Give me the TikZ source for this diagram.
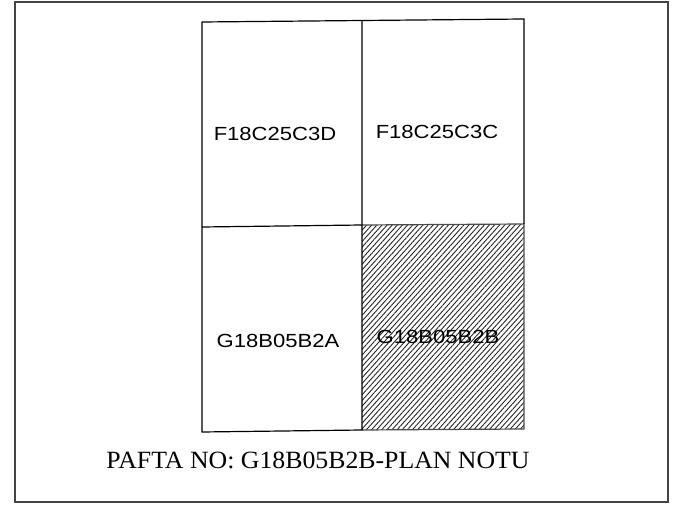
\documentclass[tikz,border=0pt]{standalone}
\usepackage{fontspec}
\setmainfont{Liberation Serif}
\setsansfont{Liberation Sans}
\usetikzlibrary{patterns.meta}
\definecolor{frameGray}{HTML}{444444}
\newcommand{\sheetname}[1]{\scalebox{1.16}[1]{#1}}

\begin{document}
\begin{tikzpicture}[x=0.5pt, y=-0.5pt, every node/.style={font=\sffamily\fontsize{9.5}{11}\selectfont, align=center}]
    \useasboundingbox (0,0) rectangle (681,513);
    % Outer frame
    \draw[frameGray, line width=0.9pt] (15,2) rectangle (668,502);

    % Sheet corners
    \coordinate (tl) at (202,22);  \coordinate (tm) at (362,21);  \coordinate (tr) at (524,19);
    \coordinate (ml) at (202,227); \coordinate (mm) at (362,225); \coordinate (mr) at (524,224);
    \coordinate (bl) at (202,432); \coordinate (bm) at (362,430); \coordinate (br) at (524,429);

    % Hatched sheet
    \fill[pattern={Lines[angle=48, distance=1.9pt, line width=0.45pt]}, pattern color=black!85] (mm) -- (mr) -- (br) -- (bm) -- cycle;
    \draw[black!70, line width=0.6pt] (mm) -- (mr) -- (br) -- (bm);

    % Sheets
    \draw[line width=0.6pt] (tl) -- (tr) -- (mr);
    \draw[line width=0.6pt] (tl) -- (bl) -- (bm) -- (tm);
    \draw[line width=0.6pt] (ml) -- (mm);

    % Sheet names
    \node (s1) at (275,134) {\sheetname{F18C25C3D}};
    \node (s2) at (437,132) {\sheetname{F18C25C3C}};
    \node (s3) at (278,341) {\sheetname{G18B05B2A}};
    \node (s4) at (438,337) {\sheetname{G18B05B2B}};

    \node[font=\rmfamily\fontsize{12.4}{14}\selectfont, anchor=base] (title) at (318,469) {\scalebox{1.04}[1]{PAFTA NO: G18B05B2B-PLAN NOTU}};
\end{tikzpicture}
\end{document}
